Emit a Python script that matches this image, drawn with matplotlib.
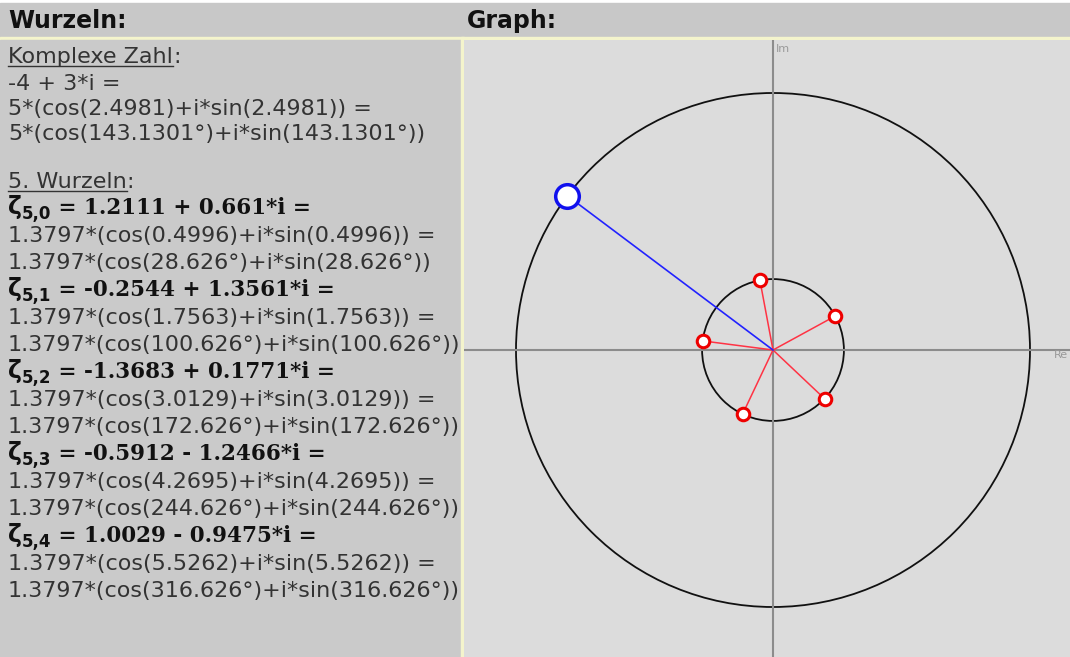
import matplotlib.pyplot as plt
from matplotlib.patches import Rectangle, Circle

# complex number and its 5th roots
z_re, z_im = -4, 3
z_abs = 5
root_re = [1.2111, -0.2544, -1.3683, -0.5912, 1.0029]
root_im = [0.661, 1.3561, 0.1771, -1.2466, -0.9475]
root_abs = 1.3797

head_lines = ["-4 + 3*i =",
              "5*(cos(2.4981)+i*sin(2.4981)) =",
              "5*(cos(143.1301°)+i*sin(143.1301°))"]
root_sub = ["5,0", "5,1", "5,2", "5,3", "5,4"]
root_eq = [" = 1.2111 + 0.661*i =",
           " = -0.2544 + 1.3561*i =",
           " = -1.3683 + 0.1771*i =",
           " = -0.5912 - 1.2466*i =",
           " = 1.0029 - 0.9475*i ="]
root_rad = ["1.3797*(cos(0.4996)+i*sin(0.4996)) =",
            "1.3797*(cos(1.7563)+i*sin(1.7563)) =",
            "1.3797*(cos(3.0129)+i*sin(3.0129)) =",
            "1.3797*(cos(4.2695)+i*sin(4.2695)) =",
            "1.3797*(cos(5.5262)+i*sin(5.5262)) ="]
root_deg = ["1.3797*(cos(28.626°)+i*sin(28.626°))",
            "1.3797*(cos(100.626°)+i*sin(100.626°))",
            "1.3797*(cos(172.626°)+i*sin(172.626°))",
            "1.3797*(cos(244.626°)+i*sin(244.626°))",
            "1.3797*(cos(316.626°)+i*sin(316.626°))"]

W, H = 1070, 657
fig = plt.figure(figsize=(W / 100, H / 100), dpi=100)
fig.patch.set_facecolor("white")

# page layer in pixel coords
bg = fig.add_axes([0, 0, 1, 1])
bg.set_xlim(0, W)
bg.set_ylim(H, 0)
bg.axis("off")
bg.add_patch(Rectangle((0, 3), W, 34, color="#c8c8c8"))
bg.add_patch(Rectangle((0, 37), W, 3, color="#f4f4cc"))
bg.add_patch(Rectangle((0, 40), 461, H - 40, color="#cacaca"))
bg.add_patch(Rectangle((461, 37), 3, H - 37, color="#f4f4cc"))

bg.text(8, 21, "Wurzeln:", fontsize=17, fontweight="bold", color="#111111", va="center")
bg.text(467, 21, "Graph:", fontsize=17, fontweight="bold", color="#111111", va="center")

fs = 16
tc = "#333333"
t1 = bg.text(8, 57, "Komplexe Zahl", fontsize=fs, color=tc, va="center")
bg.annotate(":", xy=(1, 0), xycoords=t1, fontsize=fs, color=tc, va="bottom")
for y, s in zip([84, 109, 134], head_lines):
    bg.text(8, y, s, fontsize=fs, color=tc, va="center")
t2 = bg.text(8, 182, "5. Wurzeln", fontsize=fs, color=tc, va="center")
bg.annotate(":", xy=(1, 0), xycoords=t2, fontsize=fs, color=tc, va="bottom")

for k in range(5):
    y = 207 + 82 * k
    zt = bg.text(8, y, "ζ", fontsize=fs + 1, fontweight="bold", color="#111111", va="center")
    st = bg.annotate(root_sub[k], xy=(1, 0), xycoords=zt, xytext=(0, -3),
                     textcoords="offset points", fontsize=fs - 4,
                     fontweight="bold", color="#111111", va="bottom")
    bg.annotate(root_eq[k], xy=(1, 0), xycoords=st, xytext=(0, 3),
                textcoords="offset points", fontsize=fs - 0.5, fontweight="bold",
                color="#111111", va="bottom", family="DejaVu Serif")
    bg.text(8, y + 29, root_rad[k], fontsize=fs, color=tc, va="center")
    bg.text(8, y + 56, root_deg[k], fontsize=fs, color=tc, va="center")

# underline headings
fig.canvas.draw()
inv = bg.transData.inverted()
for t in (t1, t2):
    bb = t.get_window_extent()
    (x0, y0), (x1, _) = inv.transform([(bb.x0, bb.y0), (bb.x1, bb.y1)])
    bg.plot([x0, x1], [y0 - 1, y0 - 1], color=tc, lw=1)

# graph panel
cx, cy, s = 773, 350, 51.4
ax = fig.add_axes([464 / W, 0, (W - 464) / W, (H - 40) / H])
ax.set_facecolor("#dcdcdc")
ax.set_xlim(-(cx - 464) / s, (W - cx) / s)
ax.set_ylim(-(H - cy) / s, (cy - 40) / s)
for sp in ax.spines.values():
    sp.set_visible(False)
ax.set_xticks([])
ax.set_yticks([])

ax.axhline(0, color="#8c8c8c", lw=1.5)
ax.axvline(0, color="#8c8c8c", lw=1.5)
ax.text(0.06, 5.85, "Im", fontsize=8, color="#999999", va="center")
ax.text((W - 2 - cx) / s, -0.1, "Re", fontsize=8, color="#999999", va="center", ha="right")

ax.add_patch(Circle((0, 0), z_abs, fill=False, ec="#111111", lw=1.3))
ax.add_patch(Circle((0, 0), root_abs, fill=False, ec="#111111", lw=1.3))

for re, im in zip(root_re, root_im):
    ax.plot([0, re], [0, im], color="#ff3344", lw=1.1)
ax.plot(root_re, root_im, "o", ms=9, mfc="white", mec="#ee0000", mew=2.2, ls="none")

ax.plot([0, z_re], [0, z_im], color="#2222ff", lw=1.2)
ax.plot([z_re], [z_im], "o", ms=17, mfc="white", mec="#1111ee", mew=2.5)

fig.savefig("out.png", dpi=100)
